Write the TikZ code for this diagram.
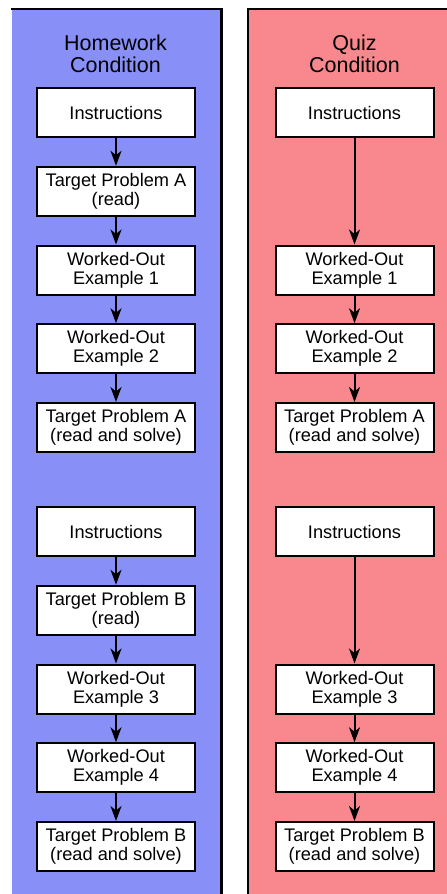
\documentclass[tikz,border=0pt]{standalone}
\usepackage{fontspec}
\setmainfont{Liberation Sans}
\usetikzlibrary{arrows.meta,positioning}
\definecolor{hwblue}{RGB}{136,144,248}
\definecolor{qzred}{RGB}{248,136,142}
\tikzstyle{panel}=[line width=2.8pt, line cap=rect]
\tikzstyle{condtitle}=[align=center, inner sep=0pt, anchor=north,
		font=\fontsize{21.5}{22}\selectfont]
\tikzstyle{stage}=[rectangle, draw, line width=2pt, fill=white, text=black,
		minimum width=158pt, minimum height=49pt, align=center, inner sep=0pt,
		font=\fontsize{18.2}{19}\selectfont]
\tikzstyle{flow}=[line width=2pt, {Stealth[length=15pt,width=11pt,inset=4.5pt]}-]

\begin{document}
\begin{tikzpicture}[x=1pt,y=1pt]

  \useasboundingbox (0,0) rectangle (447,-894);

  % background panels
  \fill[hwblue] (12,-9) rectangle (221.5,-894);
  \draw[panel] (12,-9) -- (221.5,-9) -- (221.5,-894);
  \fill[qzred] (248,-9) rectangle (447,-894);
  \draw[panel] (447,-9) -- (248,-9) -- (248,-894);

  \node (HTtl) [condtitle] at (115.5,-35) {Homework\\Condition};
  \node (QTtl) [condtitle] at (354.5,-35) {Quiz\\Condition};

  % homework condition
    \node (HInsA) [stage] at (116,-112.5) {Instructions};

    \node (HTrA) [stage, below of=HInsA, node distance=78.75pt]
    {Target Problem A\\(read)}
    edge [flow] (HInsA);

    \node (HEx1) [stage, below of=HTrA, node distance=78.75pt]
    {Worked-Out\\Example 1}
    edge [flow] (HTrA);

    \node (HEx2) [stage, below of=HEx1, node distance=78.75pt]
    {Worked-Out\\Example 2}
    edge [flow] (HEx1);

    \node (HSolA) [stage, below of=HEx2, node distance=78.75pt]
    {Target Problem A\\(read and solve)}
    edge [flow] (HEx2);

    \node (HInsB) [stage, below of=HSolA, node distance=104pt] {Instructions};

    \node (HTrB) [stage, below of=HInsB, node distance=78.75pt]
    {Target Problem B\\(read)}
    edge [flow] (HInsB);

    \node (HEx3) [stage, below of=HTrB, node distance=78.75pt]
    {Worked-Out\\Example 3}
    edge [flow] (HTrB);

    \node (HEx4) [stage, below of=HEx3, node distance=78.75pt]
    {Worked-Out\\Example 4}
    edge [flow] (HEx3);

    \node (HSolB) [stage, below of=HEx4, node distance=78.75pt]
    {Target Problem B\\(read and solve)}
    edge [flow] (HEx4);

  % quiz condition
    \node (QInsA) [stage, right of=HInsA, node distance=238.5pt] {Instructions};

    \node (QEx1) [stage, right of=HEx1, node distance=238.5pt]
    {Worked-Out\\Example 1}
    edge [flow] (QInsA);

    \node (QEx2) [stage, right of=HEx2, node distance=238.5pt]
    {Worked-Out\\Example 2}
    edge [flow] (QEx1);

    \node (QSolA) [stage, right of=HSolA, node distance=238.5pt]
    {Target Problem A\\(read and solve)}
    edge [flow] (QEx2);

    \node (QInsB) [stage, right of=HInsB, node distance=238.5pt] {Instructions};

    \node (QEx3) [stage, right of=HEx3, node distance=238.5pt]
    {Worked-Out\\Example 3}
    edge [flow] (QInsB);

    \node (QEx4) [stage, right of=HEx4, node distance=238.5pt]
    {Worked-Out\\Example 4}
    edge [flow] (QEx3);

    \node (QSolB) [stage, right of=HSolB, node distance=238.5pt]
    {Target Problem B\\(read and solve)}
    edge [flow] (QEx4);

\end{tikzpicture}
\end{document}
